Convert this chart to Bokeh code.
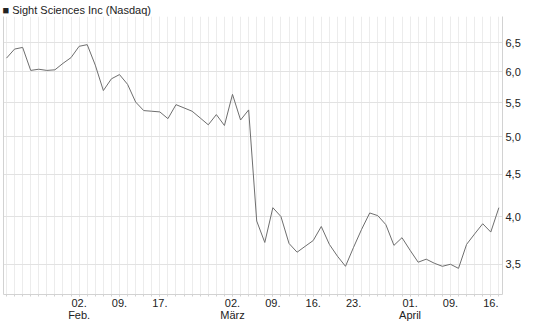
from bokeh.plotting import figure
from bokeh.models import (Range1d, FixedTicker, CustomJSTickFormatter, LinearAxis,
                          ColumnDataSource)
from bokeh.embed import file_html
from bokeh.resources import INLINE

# ---- data (trading days 20 Jan - 17 Apr) ----
prices = [6.23, 6.39, 6.42, 6.02, 6.04, 6.02, 6.03, 6.14, 6.24, 6.44,
          6.47, 6.11, 5.69, 5.88, 5.95, 5.79, 5.51, 5.38, 5.37, 5.36,
          5.26, 5.47, 5.42, 5.37, 5.27, 5.17, 5.32, 5.16, 5.63, 5.24,
          5.39, 3.95, 3.72, 4.10, 4.00, 3.71, 3.62, 3.68, 3.74, 3.89,
          3.70, 3.58, 3.48, 3.67, 3.86, 4.04, 4.01, 3.91, 3.69, 3.77,
          3.64, 3.52, 3.55, 3.51, 3.48, 3.50, 3.46, 3.70, 3.81, 3.92,
          3.83, 4.10]
day_index = list(range(len(prices)))

x_tick_positions = [9, 14, 19, 28, 33, 38, 43, 50, 55, 60]
x_tick_labels = ["02.\nFeb.", "09.", "17.", "02.\nMärz", "09.", "16.", "23.",
                 "01.\nApril", "09.", "16."]
y_tick_values = [3.5, 4.0, 4.5, 5.0, 5.5, 6.0, 6.5]
series_name = "Sight Sciences Inc (Nasdaq)"

FONT = "Liberation Sans"
GRID = "#ececec"
BORDER = "#d2d2d2"

p = figure(width=545, height=327, output_backend="svg", toolbar_location=None,
           y_axis_type="log", y_axis_location="right",
           x_range=Range1d(-0.37, 61.45), y_range=Range1d(3.216, 7.0),
           min_border_left=3, min_border_right=43, min_border_top=16,
           min_border_bottom=33, background_fill_color="white",
           border_fill_color="white")
p.outline_line_color = None

p.title.text = "\u25a0 " + series_name
p.title.text_font = FONT
p.title.text_font_size = "11px"
p.title.text_font_style = "normal"
p.title.text_color = "#222222"
p.title.align = "left"
p.title.offset = -1
p.title.standoff = 2

src = ColumnDataSource(dict(x=day_index, y=prices))
p.line("x", "y", source=src, line_color="#6e6e6e", line_width=1)

# x axis
xt = FixedTicker(ticks=x_tick_positions, minor_ticks=day_index)
xa = p.xaxis[0]
xa.ticker = xt
xa.major_label_overrides = {k: v for k, v in zip(x_tick_positions, x_tick_labels)}
xa.major_label_text_font = FONT
xa.major_label_text_font_size = "11px"
xa.major_label_text_color = "#222222"
xa.major_label_text_line_height = 1.0
xa.major_label_standoff = 0
xa.major_tick_in = 0
xa.major_tick_out = 2
xa.minor_tick_in = 0
xa.minor_tick_out = 2
xa.major_tick_line_color = BORDER
xa.minor_tick_line_color = BORDER
xa.axis_line_color = BORDER

p.xgrid.ticker = xt
p.xgrid.grid_line_color = GRID
p.xgrid.minor_grid_line_color = GRID

# y axis (right)
ya = p.yaxis[0]
ya.ticker = FixedTicker(ticks=y_tick_values, minor_ticks=[])
ya.formatter = CustomJSTickFormatter(code="return tick.toFixed(1).replace('.', ',');")
ya.major_label_text_font = FONT
ya.major_label_text_font_size = "11px"
ya.major_label_text_color = "#222222"
ya.major_label_standoff = 3
ya.major_tick_in = 0
ya.major_tick_out = 0
ya.minor_tick_line_color = None
ya.axis_line_color = BORDER
p.ygrid.ticker = ya.ticker
p.ygrid.grid_line_color = "#e2e2e2"

# left border line (axis without labels)
la = LinearAxis(ticker=FixedTicker(ticks=y_tick_values, minor_ticks=[]),
                formatter=CustomJSTickFormatter(code="return '';"),
                axis_line_color=BORDER, major_tick_line_color=None,
                minor_tick_line_color=None, major_tick_in=0, major_tick_out=0,
                major_label_standoff=0, major_label_text_font_size="1px")
p.add_layout(la, "left")

open("out.html", "w").write(file_html(p, INLINE))
